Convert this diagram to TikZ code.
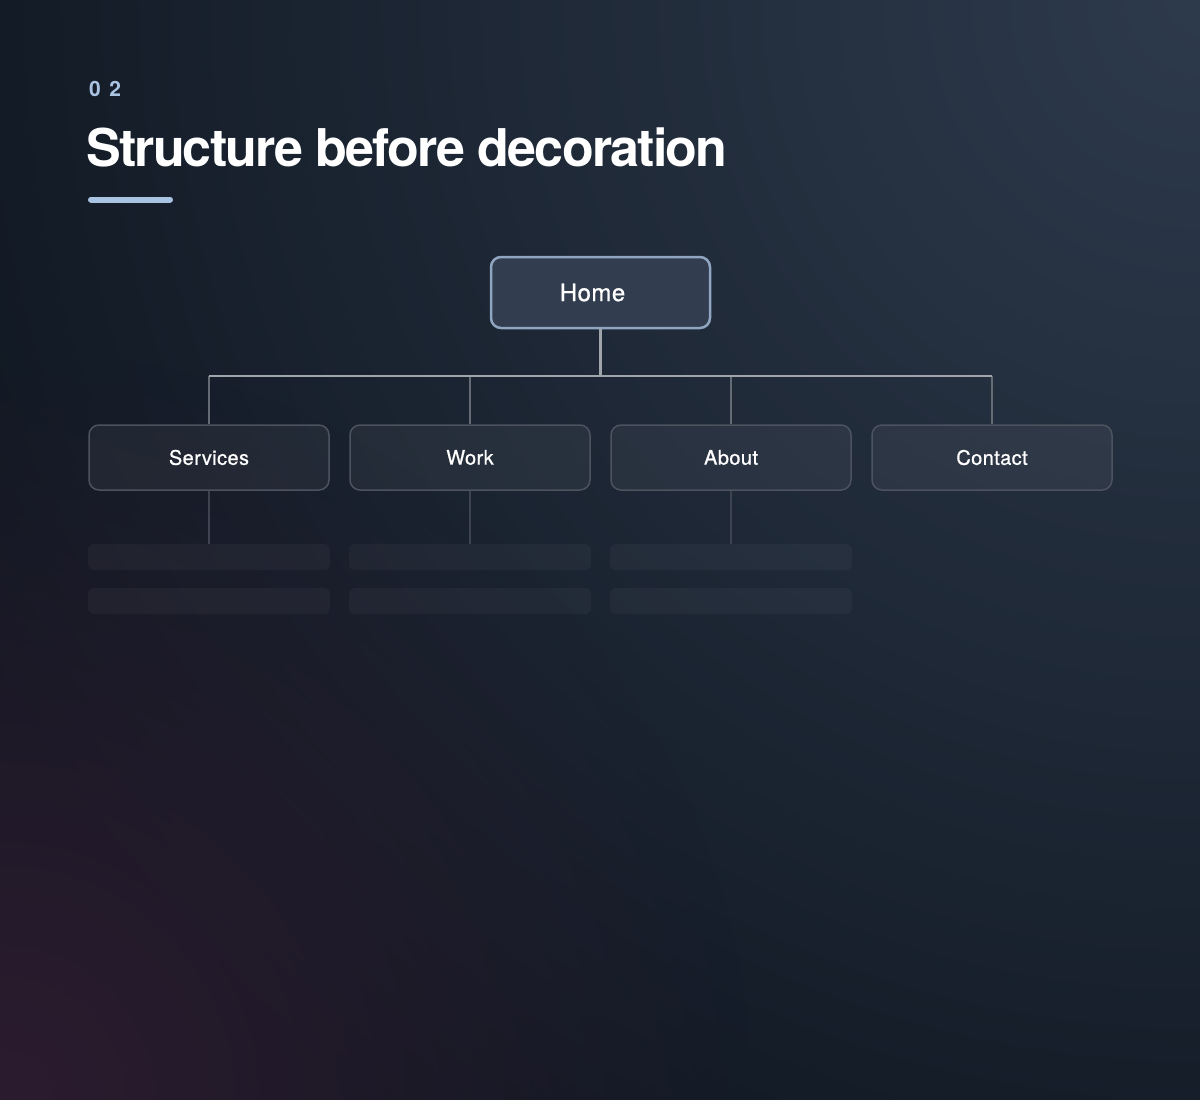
\documentclass[tikz,border=0pt]{standalone}
\usepackage{fontspec}
\usetikzlibrary{fadings}
\setmainfont{TeX Gyre Heros}
\newfontfamily\headfont[LetterSpace=-3.5]{TeX Gyre Heros}
\newfontfamily\tagfont[LetterSpace=40]{TeX Gyre Heros}
\newfontfamily\boxfont[FakeBold=0.8,LetterSpace=2]{TeX Gyre Heros}
\definecolor{bgbase}{HTML}{0F1620}
\definecolor{bgglow}{HTML}{2E3B4D}
\definecolor{bgplum}{HTML}{2C1C2F}
\definecolor{tagblue}{HTML}{A9C3E3}
\definecolor{homefill}{HTML}{323E50}
\definecolor{homeline}{HTML}{8FA5C0}
\definecolor{boxline}{HTML}{4C535E}
\definecolor{busline}{HTML}{A0A5AC}
\definecolor{dropline}{HTML}{646B75}
\definecolor{subline}{HTML}{3D444F}
\tikzfading[name=softglow, inner color=transparent!0, outer color=transparent!100]
\begin{document}
\begin{tikzpicture}[x=1pt, y=-1pt,
    homebox/.style={draw=homeline, line width=2.5pt, fill=homefill, rounded corners=10pt,
                    minimum width=219pt, minimum height=71pt, text=white, font=\boxfont\fontsize{24}{28}\selectfont},
    pagebox/.style={draw=boxline, line width=1.5pt, fill=white, fill opacity=0.05, text opacity=1,
                    rounded corners=10pt, minimum width=240pt, minimum height=65pt,
                    text=white, font=\boxfont\fontsize{20}{24}\selectfont},
    stub/.style={fill=white, fill opacity=0.035, rounded corners=6pt, minimum width=242pt, minimum height=26pt}]
      % background
      \fill[bgbase] (0, 0) rectangle (1200, 1100);
      \begin{scope}
        \clip (0, 0) rectangle (1200, 1100);
        \fill[bgglow, path fading=softglow] (-200, -1400) rectangle (2600, 1400);
        \fill[bgplum, path fading=softglow] (-750, 350) rectangle (750, 1850);
      \end{scope}
      \useasboundingbox (0, 0) rectangle (1200, 1100);
      % title
      \node (tag) [anchor=base west, inner sep=0, text=tagblue, font=\tagfont\bfseries\fontsize{21}{24}\selectfont] at (89, 96) {02};
      \node (title) [anchor=base west, inner sep=0, text=white, font=\headfont\bfseries\fontsize{52}{60}\selectfont] at (86, 166) {Structure before decoration};
      \draw[tagblue, line width=6pt, line cap=round] (91, 199.5) -- (170, 199.5);
      % tree
      \node (home) [homebox] at (600.5, 292.5) {\raisebox{-3pt}{Home}\hspace*{16pt}};
      \node (services) [pagebox] at (209, 457.5) {\raisebox{-2pt}{Services}};
      \node (work) [pagebox] at (470, 457.5) {\raisebox{-2pt}{Work}};
      \node (about) [pagebox] at (731, 457.5) {\raisebox{-2pt}{About}};
      \node (contact) [pagebox] at (992, 457.5) {\raisebox{-2pt}{Contact}};
      \coordinate (bus) at (600.5, 376);
      \draw[dropline, line width=2pt] (services.north |- bus) -- (services.north)
                                      (work.north |- bus) -- (work.north)
                                      (about.north |- bus) -- (about.north)
                                      (contact.north |- bus) -- (contact.north);
      \draw[busline, line width=2.5pt] (home.south) -- (bus)
                                       (services.north |- bus) -- (contact.north |- bus);
      % placeholder rows
      \foreach \p/\x in {services/209, work/470, about/731} {
        \node (\p a) [stub] at (\x, 557) {};
        \node (\p b) [stub] at (\x, 601) {};
        \draw[subline, line width=1.5pt] (\p.south) -- (\p a.north);
      }
\end{tikzpicture}
\end{document}
